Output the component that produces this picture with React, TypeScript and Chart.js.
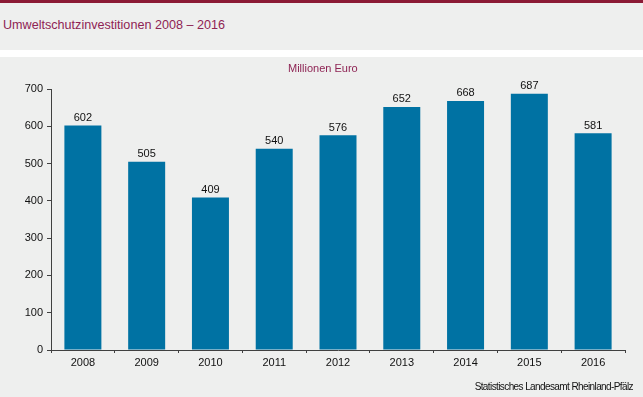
import React, { useEffect, useRef } from "react";
import { Chart, registerables } from "chart.js";

Chart.register(...registerables);

const categories = ["2008", "2009", "2010", "2011", "2012", "2013", "2014", "2015", "2016"];
const values = [602, 505, 409, 540, 576, 652, 668, 687, 581];
const titleText = "Umweltschutzinvestitionen 2008 – 2016";
const unitText = "Millionen Euro";
const sourceText = "Statistisches Landesamt Rheinland-Pfälz";

const BAR_COLOR = "#0072a3";
const BG = "#eeefee";
const FONT = "Arial, 'Liberation Sans', sans-serif";

const valueLabels = {
  id: "valueLabels",
  afterDatasetsDraw(chart: any) {
    const ctx = chart.ctx;
    const meta = chart.getDatasetMeta(0);
    ctx.save();
    ctx.font = `11px ${FONT}`;
    ctx.fillStyle = "#111";
    ctx.textAlign = "center";
    ctx.textBaseline = "bottom";
    meta.data.forEach((bar: any, i: number) => {
      ctx.fillText(String(values[i]), bar.x, bar.y - 2);
    });
    ctx.restore();
  },
};

export default function App() {
  const ref = useRef<HTMLCanvasElement | null>(null);
  useEffect(() => {
    document.body.style.margin = "0";
    const chart = new Chart(ref.current!, {
      type: "bar",
      data: {
        labels: categories,
        datasets: [
          {
            data: values,
            backgroundColor: BAR_COLOR,
            categoryPercentage: 1,
            barPercentage: 0.58,
          },
        ],
      },
      options: {
        animation: false,
        responsive: false,
        maintainAspectRatio: false,
        layout: { padding: { top: 32, right: 18, left: 0, bottom: 0 } },
        plugins: { legend: { display: false }, tooltip: { enabled: false } },
        scales: {
          x: {
            offset: true,
            border: { color: "#404040", width: 1 },
            grid: { display: true, drawOnChartArea: false, tickLength: 3, color: "#404040", offset: true },
            ticks: { color: "#111", font: { family: FONT, size: 11 }, padding: 3 },
            afterFit: (s: any) => { s.height = 47; },
          },
          y: {
            min: 0,
            max: 700,
            border: { color: "#404040", width: 1 },
            grid: { display: true, drawOnChartArea: false, tickLength: 4, color: "#404040" },
            ticks: { stepSize: 100, color: "#111", font: { family: FONT, size: 11 }, padding: 4 },
            afterFit: (s: any) => { s.width = 51; },
          },
        },
      },
      plugins: [valueLabels],
    });
    return () => chart.destroy();
  }, []);

  return (
    <div style={{ position: "relative", width: 643, height: 397, background: "#fff", fontFamily: FONT, overflow: "hidden" }}>
      <div style={{ position: "absolute", left: 0, top: 0, width: 643, height: 3, background: "#8b1a35" }} />
      <div style={{ position: "absolute", left: 0, top: 3, width: 643, height: 47, background: BG }}>
        <div style={{ position: "absolute", left: 3, top: 15, fontSize: 12.6, color: "#8e2454", letterSpacing: 0, whiteSpace: "nowrap" }}>
          {titleText}
        </div>
      </div>
      <div style={{ position: "absolute", left: 0, top: 57, width: 643, height: 340, background: BG }}>
        <canvas ref={ref} width={643} height={340} style={{ display: "block" }} />
        <div style={{ position: "absolute", left: 288, top: 5, fontSize: 11, color: "#8e2454", whiteSpace: "nowrap" }}>{unitText}</div>
        <div style={{ position: "absolute", right: 10, top: 324, fontSize: 10, color: "#111", whiteSpace: "nowrap", letterSpacing: -0.6 }}>{sourceText}</div>
      </div>
    </div>
  );
}
